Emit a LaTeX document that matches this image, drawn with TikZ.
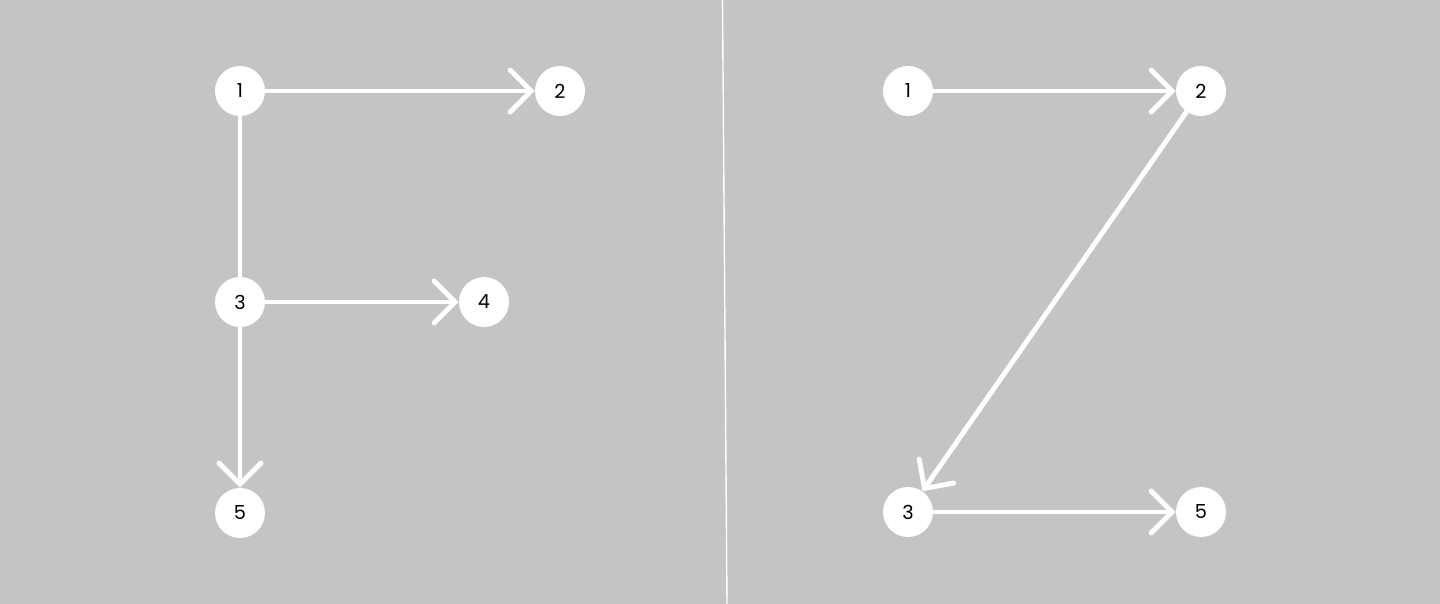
\documentclass[tikz,border=0pt]{standalone}
\usepackage{fontspec}
\setmainfont{Poppins}
\usepackage{xcolor}
\usepackage{tikz}
\usetikzlibrary{arrows.meta}
\definecolor{bggray}{HTML}{C4C4C4}

\begin{document}
\begin{tikzpicture}[x=0.02cm, y=-0.02cm,
    vertex/.style={circle, fill=white, minimum size=1cm, inner sep=0pt, font=\fontsize{11}{13}\selectfont},
    link/.style={draw=white, line width=2.8pt, line cap=round},
    arc/.style={link, -{Straight Barb[length=0.42cm, width=0.84cm, line cap=round]}}]

        % Фон и разделитель
        \useasboundingbox (0,0) rectangle (1440,604);
        \clip (0,0) rectangle (1440,604);
        \fill[bggray] (0,0) rectangle (1440,604);
        \coordinate (top) at (722.5,0);
        \coordinate (bottom) at (727,604);
        \draw[white, line width=0.8pt] (top) -- (bottom);

        % Вершины буквы F
        \node[vertex] (L1) at (240,91) {1};
        \node[vertex] (L2) at (560,91) {2};
        \node[vertex] (L3) at (240,302) {3};
        \node[vertex] (L4) at (484,302) {4};
        \node[vertex] (L5) at (240,513) {5};

        % Вершины буквы Z
        \node[vertex] (R1) at (908,91) {1};
        \node[vertex] (R2) at (1201,91) {2};
        \node[vertex] (R3) at (908,512) {3};
        \node[vertex] (R5) at (1201,512) {5};

        % Рёбра буквы F
        \draw[arc] (L1) -- (L2);
        \draw[link] (L1) -- (L3);
        \draw[arc] (L3) -- (L4);
        \draw[arc] (L3) -- (L5);

        % Рёбра буквы Z
        \draw[arc] (R1) -- (R2);
        \draw[arc] (R2) -- (R3);
        \draw[arc] (R3) -- (R5);

    \end{tikzpicture}
\end{document}
